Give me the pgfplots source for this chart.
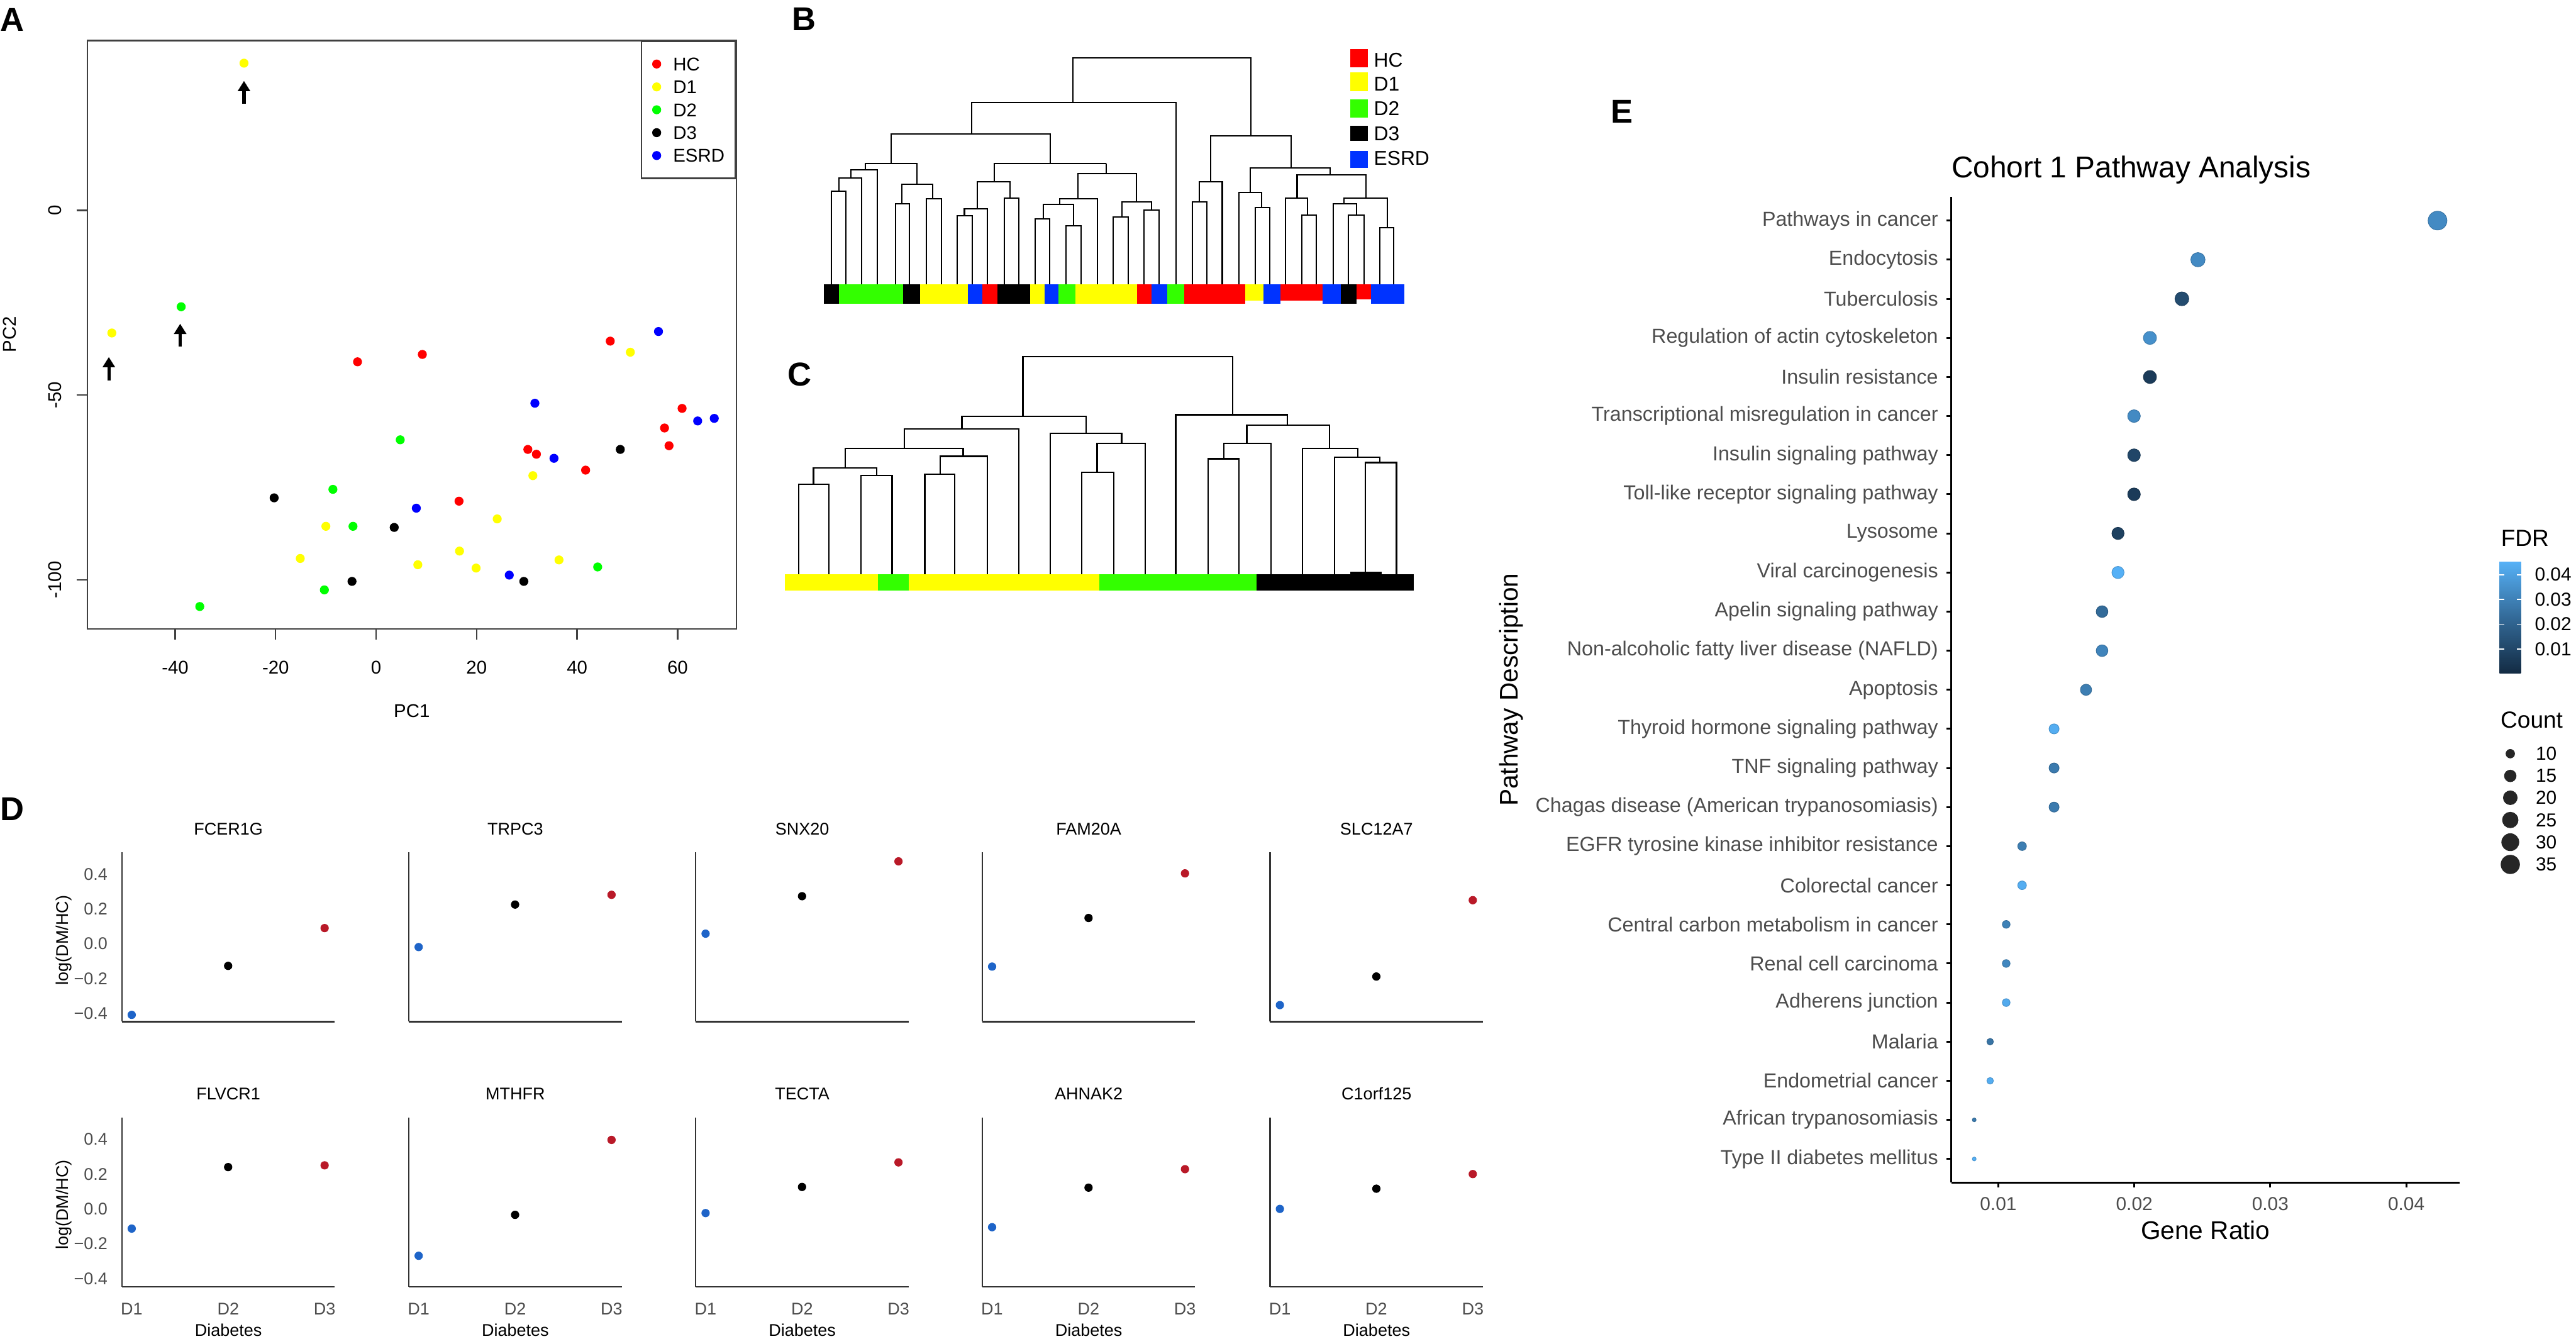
\documentclass[border=0pt]{standalone}
\usepackage{fontspec}
\setmainfont{Liberation Sans}
\setsansfont{Liberation Sans}
\usepackage{pgfplots}
\usepackage{pgfplotstable}
\pgfplotsset{compat=1.18}
\usetikzlibrary{arrows.meta}

\definecolor{hc}{RGB}{255,0,0}
\definecolor{dyel}{RGB}{255,255,0}
\definecolor{dgrn}{RGB}{0,255,0}
\definecolor{esrd}{RGB}{0,0,255}
\definecolor{bred}{RGB}{255,0,0}
\definecolor{byel}{RGB}{255,255,0}
\definecolor{bgrn}{RGB}{51,255,0}
\definecolor{bblu}{RGB}{0,51,255}
\definecolor{dblue}{RGB}{30,100,200}
\definecolor{dred}{RGB}{185,25,40}
\definecolor{lab}{RGB}{77,77,77}

\newcommand{\fsA}{\fontsize{12.3pt}{14pt}\selectfont}
\newcommand{\fsB}{\fontsize{13.3pt}{15pt}\selectfont}
\newcommand{\fsD}{\fontsize{11.3pt}{13pt}\selectfont}
\newcommand{\fsE}{\fontsize{13.5pt}{15pt}\selectfont}
\newcommand{\fsEt}{\fontsize{12.5pt}{14pt}\selectfont}
\newcommand{\fsEl}{\fontsize{17pt}{19pt}\selectfont}
\newcommand{\fsEh}{\fontsize{15.5pt}{17pt}\selectfont}
\newcommand{\fsT}{\fontsize{20pt}{22pt}\selectfont}
\newcommand{\fsP}{\fontsize{22pt}{24pt}\selectfont\bfseries}

\pgfplotsset{
  hidden/.style={scale only axis, hide axis, clip=false, xmin=0, xmax=1568,
    ymin=-1568, ymax=0, unbounded coords=jump},
  dendro/.style={black, line width=0.3mm, mark=none},
  seg/.style={draw=none, fill=#1, mark=none},
  Apt/.style={only marks, mark=*, mark size=0.95mm, draw=#1, fill=#1},
  dpanel/.style={scale only axis, width=49.8mm, height=39.6mm,
    xmin=0.898, xmax=3.106, ymin=-0.447, ymax=0.525,
    axis x line*=bottom, axis y line*=left,
    axis line style={line width=0.35mm, black!80}, major tick length=0pt,
    xtick=\empty, ytick=\empty, clip=false,
    title style={anchor=base, at={(0.5,1)}, yshift=2mm, font=\fsD}},
  dleft/.style={ytick={-0.4,-0.2,0,0.2,0.4},
    yticklabels={−0.4,−0.2,0.0,0.2,0.4},
    yticklabel style={anchor=east, inner sep=0pt, xshift=-3.3mm, font=\fsD, text=lab}},
  dbot/.style={xtick={1,2,3}, xticklabels={D1,D2,D3},
    xticklabel style={anchor=base, inner sep=0pt, yshift=-6.6mm, font=\fsD, text=lab}},
  dpt/.style={only marks, mark=*, mark size=0.9mm, draw=#1, fill=#1},
}

% three group means of one gene
\newcommand{\dpts}[3]{%
  \addplot[dpt=dblue] coordinates {(1,#1)};
  \addplot[dpt=black] coordinates {(2,#2)};
  \addplot[dpt=dred] coordinates {(3,#3)};}
\newcommand{\dylab}[1]{\node[font=\fsD, anchor=base, rotate=90] at ([xshift=-12.5mm]rel axis cs:0,#1) {log(DM/HC)};}
\newcommand{\dxlab}{\node[font=\fsD, anchor=base] at ([yshift=-11.5mm]rel axis cs:0.5,0) {Diabetes};}
% coloured block of a dendrogram bar / legend key
\newcommand{\seg}[5]{\addplot[seg=#1] coordinates {(#2,-#4) (#3,-#4) (#3,-#5) (#2,-#5)};}

\pgfplotstableread{
idx ratio cnt fdr
25 0.04230 36 0.033
24 0.02468 21 0.033
23 0.02350 20 0.012
22 0.02115 18 0.035
21 0.02115 18 0.006
20 0.01998 17 0.033
19 0.01998 17 0.010
18 0.01998 17 0.006
17 0.01880 16 0.008
16 0.01880 16 0.045
15 0.01763 15 0.023
14 0.01763 15 0.031
13 0.01645 14 0.029
12 0.01410 12 0.044
11 0.01410 12 0.028
10 0.01410 12 0.028
9  0.01175 10 0.029
8  0.01175 10 0.044
7  0.01058 9  0.030
6  0.01058 9  0.032
5  0.01058 9  0.043
4  0.00940 8  0.026
3  0.00940 8  0.044
2  0.00823 7  0.028
1  0.00823 7  0.045
}\pathdata

\pgfplotstableread{
x y cnt
0.04765 11.365 10
0.04765 10.797 15
0.04765 10.239 20
0.04765 9.670 25
0.04765 9.102 30
0.04765 8.533 35
}\countkey

\begin{document}
\begin{tikzpicture}
\path[use as bounding box] (0,0) rectangle (602.4mm,-313mm);

% ---------------- A: PCA
\begin{axis}[at={(20.4mm,-147.1mm)}, anchor=south west, scale only axis,
  width=151.8mm, height=137.6mm,
  xmin=-57.5, xmax=71.7, ymin=-113.3, ymax=45.9,
  xtick={-40,-20,0,20,40,60}, xticklabels={-40,-20,0,20,40,60},
  ytick={-100,-50,0}, yticklabels={-100,-50,0},
  tick pos=left, tick align=outside, major tick length=2.5mm,
  axis line style={black!75, line width=0.35mm},
  tick style={black!75, line width=0.35mm},
  xticklabel style={font=\fsA, anchor=base, yshift=-8.0mm, inner sep=0pt},
  yticklabel style={font=\fsA, xshift=-3.5mm, rotate=90, anchor=base, inner sep=0pt},
  legend cell align=left,
  legend image code/.code={\draw[#1] plot coordinates {(0mm,0mm)};},
  legend style={at={(1,1)}, anchor=north east, draw=black!75, line width=0.35mm,
    font=\fsA, inner xsep=2.6mm, inner ysep=3.75mm, row sep=2.25mm,
    nodes={inner sep=0pt, text height=3.1mm, text depth=0mm},
    /tikz/every odd column/.append style={column sep=2.9mm}},
  clip=false]
\addplot[Apt=hc, line width=0.2mm] coordinates {(-3.7,-41.0) (9.2,-39.0) (16.5,-78.7) (30.2,-64.7) (31.9,-66.0) (41.7,-70.3) (46.6,-35.4) (57.4,-58.9) (58.3,-63.7) (60.9,-53.6)};
\addlegendentry{HC}
\addplot[Apt=dyel, line width=0.2mm] coordinates {(-26.3,39.8) (-52.6,-33.2) (-10.0,-85.5) (-15.1,-94.2) (8.3,-95.9) (16.6,-92.2) (19.9,-96.8) (24.1,-83.5) (31.2,-71.8) (36.4,-94.6) (50.6,-38.4)};
\addlegendentry{D1}
\addplot[Apt=dgrn, line width=0.2mm] coordinates {(-38.8,-26.1) (-35.1,-107.2) (-8.6,-75.5) (-4.6,-85.5) (-10.3,-102.7) (4.8,-62.1) (44.1,-96.5)};
\addlegendentry{D2}
\addplot[Apt=black, line width=0.2mm] coordinates {(-20.3,-77.8) (3.6,-85.8) (-4.8,-100.4) (29.4,-100.4) (48.6,-64.7)};
\addlegendentry{D3}
\addplot[Apt=esrd, line width=0.2mm] coordinates {(8.0,-80.6) (31.6,-52.2) (35.4,-67.1) (26.5,-98.7) (56.2,-32.8) (64.0,-57.0) (67.3,-56.3)};
\addlegendentry{ESRD}
\draw[line width=0.75mm, -{Triangle[width=2.8mm,length=2.4mm]}] (axis cs:-26.3,28.8) -- (axis cs:-26.3,35.0);
\draw[line width=0.75mm, -{Triangle[width=2.8mm,length=2.4mm]}] (axis cs:-39.0,-36.9) -- (axis cs:-39.0,-30.7);
\draw[line width=0.75mm, -{Triangle[width=2.8mm,length=2.4mm]}] (axis cs:-53.2,-46.1) -- (axis cs:-53.2,-39.7);
\node[font=\fsA, anchor=base] at ([yshift=-20.7mm]rel axis cs:0.5,0) {PC1};
\node[font=\fsA, anchor=base, rotate=90] at ([xshift=-16.7mm]rel axis cs:0,0.501) {PC2};
\end{axis}

% ---------------- B: dendrogram, all samples
\begin{axis}[hidden, at={(185mm,-75mm)}, anchor=south west, width=155mm, height=75mm]
\addplot[dendro] coordinates {
(95,-1390) (95,-935) (130,-935) (130,-1390) (nan,nan)
(113,-935) (113,-870) (167,-870) (167,-1390) (nan,nan)
(142,-870) (142,-830) (204,-830) (204,-1390) (nan,nan)
(247,-1390) (247,-995) (280,-995) (280,-1390) (nan,nan)
(320,-1390) (320,-972) (355,-972) (355,-1390) (nan,nan)
(262,-995) (262,-900) (335,-900) (335,-972) (nan,nan)
(175,-830) (175,-800) (298,-800) (298,-900) (nan,nan)
(393,-1390) (393,-1055) (428,-1055) (428,-1390) (nan,nan)
(410,-1055) (410,-1020) (465,-1020) (465,-1390) (nan,nan)
(505,-1390) (505,-968) (538,-968) (538,-1390) (nan,nan)
(440,-1020) (440,-888) (518,-888) (518,-968) (nan,nan)
(578,-1390) (578,-1070) (612,-1070) (612,-1390) (nan,nan)
(650,-1390) (650,-1103) (686,-1103) (686,-1390) (nan,nan)
(597,-1070) (597,-1000) (668,-1000) (668,-1103) (nan,nan)
(635,-1000) (635,-972) (724,-972) (724,-1390) (nan,nan)
(762,-1390) (762,-1060) (797,-1060) (797,-1390) (nan,nan)
(835,-1390) (835,-1028) (870,-1028) (870,-1390) (nan,nan)
(782,-1060) (782,-988) (853,-988) (853,-1028) (nan,nan)
(678,-972) (678,-848) (817,-848) (817,-988) (nan,nan)
(746,-848) (746,-800) (nan,nan)
(480,-888) (480,-800) (746,-800) (nan,nan)
(237,-800) (237,-655) (613,-655) (613,-800) (nan,nan)
(427,-655) (427,-500) (911,-500) (911,-1390) (nan,nan)
(950,-1390) (950,-988) (984,-988) (984,-1390) (nan,nan)
(966,-988) (966,-888) (1020,-888) (1020,-1390) (nan,nan)
(1098,-1390) (1098,-1015) (1133,-1015) (1133,-1390) (nan,nan)
(1060,-1390) (1060,-940) (1113,-940) (1113,-1015) (nan,nan)
(1208,-1390) (1208,-1052) (1242,-1052) (1242,-1390) (nan,nan)
(1170,-1390) (1170,-968) (1222,-968) (1222,-1052) (nan,nan)
(1318,-1390) (1318,-1052) (1355,-1052) (1355,-1390) (nan,nan)
(1282,-1390) (1282,-995) (1337,-995) (1337,-1052) (nan,nan)
(1393,-1390) (1393,-1113) (1425,-1113) (1425,-1390) (nan,nan)
(1308,-995) (1308,-968) (1410,-968) (1410,-1113) (nan,nan)
(1197,-968) (1197,-855) (1360,-855) (1360,-968) (nan,nan)
(1086,-940) (1086,-822) (1275,-822) (1275,-855) (nan,nan)
(993,-888) (993,-665) (1183,-665) (1183,-822) (nan,nan)
(667,-500) (667,-283) (1088,-283) (1088,-665)
};
\seg{black}{77}{113}{1390}{1485}
\seg{bgrn}{113}{265}{1390}{1485}
\seg{black}{265}{305}{1390}{1485}
\seg{byel}{305}{418}{1390}{1485}
\seg{bblu}{418}{453}{1390}{1485}
\seg{bred}{453}{488}{1390}{1485}
\seg{black}{488}{565}{1390}{1485}
\seg{byel}{565}{600}{1390}{1485}
\seg{bblu}{600}{633}{1390}{1485}
\seg{bgrn}{633}{672}{1390}{1485}
\seg{byel}{672}{818}{1390}{1485}
\seg{bred}{818}{852}{1390}{1485}
\seg{bblu}{852}{890}{1390}{1485}
\seg{bgrn}{890}{930}{1390}{1485}
\seg{bred}{930}{1075}{1390}{1485}
\seg{byel}{1075}{1118}{1390}{1470}
\seg{bblu}{1118}{1158}{1390}{1485}
\seg{bred}{1158}{1258}{1390}{1470}
\seg{bblu}{1258}{1300}{1390}{1485}
\seg{black}{1300}{1337}{1390}{1485}
\seg{bred}{1337}{1372}{1390}{1465}
\seg{bblu}{1372}{1450}{1390}{1485}
% key
\seg{bred}{1322}{1365}{240}{330}
\seg{byel}{1322}{1365}{355}{445}
\seg{bgrn}{1322}{1365}{485}{575}
\seg{black}{1322}{1365}{615}{690}
\seg{bblu}{1322}{1365}{738}{820}
\node[font=\fsB, anchor=base west, inner sep=0pt] at (axis cs:1378,-326) {HC};
\node[font=\fsB, anchor=base west, inner sep=0pt] at (axis cs:1378,-443) {D1};
\node[font=\fsB, anchor=base west, inner sep=0pt] at (axis cs:1378,-563) {D2};
\node[font=\fsB, anchor=base west, inner sep=0pt] at (axis cs:1378,-688) {D3};
\node[font=\fsB, anchor=base west, inner sep=0pt] at (axis cs:1378,-806) {ESRD};
\end{axis}

% ---------------- C: dendrogram, diabetic samples
\begin{axis}[hidden, at={(178mm,-140mm)}, anchor=south west, width=160mm, height=70mm]
\addplot[dendro, line width=0.33mm] coordinates {
(86,-1440) (86,-968) (155,-968) (155,-1440) (nan,nan)
(229,-1440) (229,-922) (300,-922) (300,-1440) (nan,nan)
(120,-968) (120,-882) (265,-882) (265,-922) (nan,nan)
(375,-1440) (375,-915) (443,-915) (443,-1440) (nan,nan)
(410,-915) (410,-822) (518,-822) (518,-1440) (nan,nan)
(193,-882) (193,-780) (463,-780) (463,-822) (nan,nan)
(328,-780) (328,-678) (590,-678) (590,-1440) (nan,nan)
(735,-1440) (735,-905) (808,-905) (808,-1440) (nan,nan)
(770,-905) (770,-755) (880,-755) (880,-1440) (nan,nan)
(663,-1440) (663,-702) (826,-702) (826,-755) (nan,nan)
(460,-678) (460,-612) (745,-612) (745,-702) (nan,nan)
(1024,-1440) (1024,-835) (1095,-835) (1095,-1440) (nan,nan)
(1060,-835) (1060,-755) (1168,-755) (1168,-1440) (nan,nan)
(1385,-1440) (1385,-855) (1456,-855) (1456,-1440) (nan,nan)
(1314,-1440) (1314,-828) (1418,-828) (1418,-855) (nan,nan)
(1240,-1440) (1240,-780) (1367,-780) (1367,-828) (nan,nan)
(1113,-755) (1113,-658) (1302,-658) (1302,-780) (nan,nan)
(950,-1440) (950,-605) (1206,-605) (1206,-658) (nan,nan)
(600,-612) (600,-300) (1080,-300) (1080,-605)
};
\seg{byel}{55}{268}{1440}{1525}
\seg{bgrn}{268}{338}{1440}{1525}
\seg{byel}{338}{775}{1440}{1525}
\seg{bgrn}{775}{1135}{1440}{1525}
\seg{black}{1135}{1495}{1440}{1525}
\seg{black}{1350}{1422}{1425}{1510}
\end{axis}

% ---------------- D: ten genes
\begin{axis}[dpanel, dleft, at={(28.5mm,-238.9mm)}, anchor=south west, title={FCER1G}]
\dpts{-0.408}{-0.127}{0.090}
\dylab{0.48}
\end{axis}
\begin{axis}[dpanel, at={(95.6mm,-238.9mm)}, anchor=south west, title={TRPC3}]
\dpts{-0.019}{0.225}{0.281}
\end{axis}
\begin{axis}[dpanel, at={(162.7mm,-238.9mm)}, anchor=south west, title={SNX20}]
\dpts{0.058}{0.273}{0.473}
\end{axis}
\begin{axis}[dpanel, at={(229.7mm,-238.9mm)}, anchor=south west, title={FAM20A}]
\dpts{-0.131}{0.148}{0.404}
\end{axis}
\begin{axis}[dpanel, at={(297.0mm,-238.9mm)}, anchor=south west, title={SLC12A7}]
\dpts{-0.352}{-0.188}{0.250}
\end{axis}
\begin{axis}[dpanel, dleft, dbot, at={(28.5mm,-300.9mm)}, anchor=south west, title={FLVCR1}]
\dpts{-0.113}{0.240}{0.250}
\dylab{0.484}
\dxlab
\end{axis}
\begin{axis}[dpanel, dbot, at={(95.6mm,-300.9mm)}, anchor=south west, title={MTHFR}]
\dpts{-0.269}{-0.034}{0.396}
\dxlab
\end{axis}
\begin{axis}[dpanel, dbot, at={(162.7mm,-300.9mm)}, anchor=south west, title={TECTA}]
\dpts{-0.024}{0.126}{0.267}
\dxlab
\end{axis}
\begin{axis}[dpanel, dbot, at={(229.7mm,-300.9mm)}, anchor=south west, title={AHNAK2}]
\dpts{-0.105}{0.122}{0.228}
\dxlab
\end{axis}
\begin{axis}[dpanel, dbot, at={(297.0mm,-300.9mm)}, anchor=south west, title={C1orf125}]
\dpts{0.000}{0.116}{0.200}
\dxlab
\end{axis}

% ---------------- E: pathway dot plot
\begin{axis}[at={(456.3mm,-276.5mm)}, anchor=south west, scale only axis,
  width=118.9mm, height=230.4mm,
  xmin=0.00654, xmax=0.04393, ymin=0.4, ymax=25.6,
  axis x line*=bottom, axis y line*=left,
  axis line style={line width=0.45mm, black},
  tick align=outside, major tick length=1.1mm, tick style={line width=0.45mm, black},
  scaled x ticks=false,
  xtick={0.01,0.02,0.03,0.04}, xticklabels={0.01,0.02,0.03,0.04},
  ytick={1,2,...,25},
  yticklabels={Type II diabetes mellitus, African trypanosomiasis, Endometrial cancer, Malaria,
    Adherens junction, Renal cell carcinoma, Central carbon metabolism in cancer, Colorectal cancer,
    EGFR tyrosine kinase inhibitor resistance, Chagas disease (American trypanosomiasis),
    TNF signaling pathway, Thyroid hormone signaling pathway, Apoptosis,
    Non-alcoholic fatty liver disease (NAFLD), Apelin signaling pathway, Viral carcinogenesis,
    Lysosome, Toll-like receptor signaling pathway, Insulin signaling pathway,
    Transcriptional misregulation in cancer, Insulin resistance, Regulation of actin cytoskeleton,
    Tuberculosis, Endocytosis, Pathways in cancer},
  yticklabel style={font=\fsE, text=lab, anchor=east, inner sep=0pt, xshift=-1.9mm},
  xticklabel style={font=\fsEt, text=lab, anchor=base, inner sep=0pt, yshift=-5.4mm},
  /pgf/number format/assume math mode=true,
  colormap={fdrmap}{rgb255=(19,43,67) rgb255=(51,106,152) rgb255=(86,177,247)},
  point meta min=0.0003, point meta max=0.0453,
  colorbar,
  colorbar style={at={(parent axis.south east)}, anchor=south west,
    xshift=6.3mm, yshift=119.1mm,
    scale only axis, width=5.1mm, height=26.1mm, scaled y ticks=false,
    ytick={0.01,0.02,0.03,0.04}, yticklabels={0.01,0.02,0.03,0.04},
    yticklabel pos=right, ytick pos=both, tick align=inside, major tick length=1.1mm,
    tick style={white, line width=0.25mm}, axis line style={draw=none},
    yticklabel style={font=\fsEt, text=black, anchor=west, inner sep=0pt, xshift=3.1mm}},
  clip=false]
\addplot[scatter, only marks, mark=*, point meta=\thisrow{fdr},
  scatter/use mapped color={draw=mapped color!85!black, fill=mapped color},
  visualization depends on={\thisrow{cnt} \as \cnt},
  scatter/@pre marker code/.append style={/tikz/mark size={0.45mm+1.75mm*sqrt((\cnt-7)/29)}, /tikz/line width=0.2mm}]
  table[x=ratio, y=idx] {\pathdata};
% size key
\addplot[scatter, only marks, mark=*, point meta=\thisrow{cnt},
  scatter/use mapped color={draw=black!85, fill=black!85},
  visualization depends on={\thisrow{cnt} \as \cnt},
  scatter/@pre marker code/.append style={/tikz/mark size={0.45mm+1.75mm*sqrt((\cnt-7)/29)}}]
  table[x=x, y=y] {\countkey};
\addplot[draw=none, mark=none, point meta=\thisrow{cnt}, nodes near coords,
  nodes near coords style={font=\fsEt, text=black, anchor=west, inner sep=0pt, xshift=5.9mm}]
  table[x=x, y=y] {\countkey};
\node[font=\fsT, anchor=base west, inner sep=0pt] at ([yshift=4.5mm]rel axis cs:0,1) {Cohort 1 Pathway Analysis};
\node[font=\fsEl, anchor=base] at ([yshift=-13.3mm]rel axis cs:0.5,0) {Gene Ratio};
\node[font=\fsEl, anchor=base, rotate=90] at ([xshift=-101.3mm]rel axis cs:0,0.5) {Pathway Description};
\end{axis}
\node[font=\fsEh, anchor=base west, inner sep=0pt] at (584.8mm,-127.7mm) {FDR};
\node[font=\fsEh, anchor=base west, inner sep=0pt] at (584.7mm,-170.2mm) {Count};

% ---------------- panel letters
\node[font=\fsP, anchor=base west, inner sep=0pt] at (0mm,-7.3mm) {A};
\node[font=\fsP, anchor=base west, inner sep=0pt] at (185.2mm,-7.2mm) {B};
\node[font=\fsP, anchor=base west, inner sep=0pt] at (184.1mm,-90.3mm) {C};
\node[font=\fsP, anchor=base west, inner sep=0pt] at (0mm,-191.9mm) {D};
\node[font=\fsP, anchor=base west, inner sep=0pt] at (376.7mm,-28.8mm) {E};
\end{tikzpicture}
\end{document}
